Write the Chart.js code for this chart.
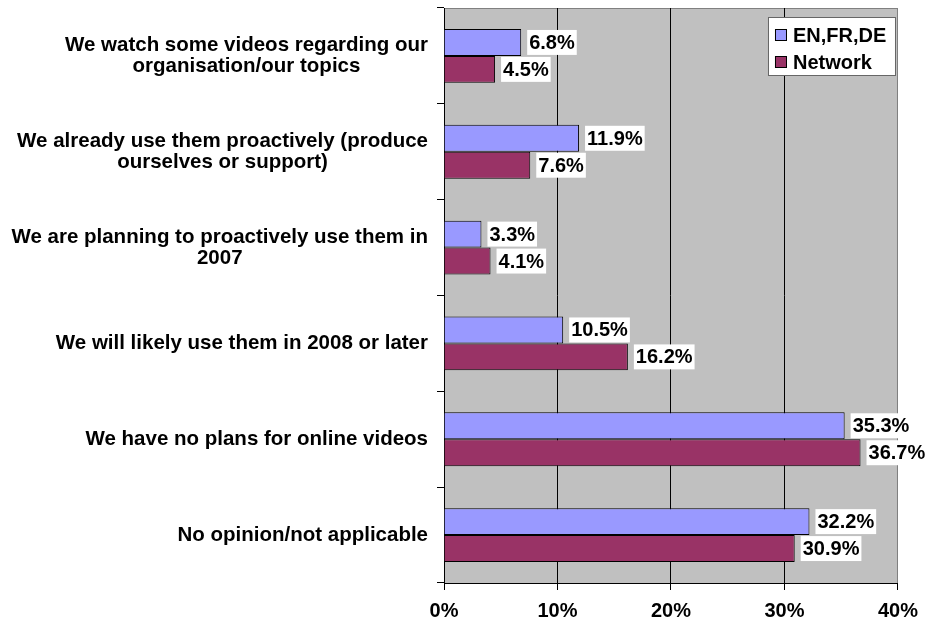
<!DOCTYPE html>
<html>
<head>
<meta charset="utf-8">
<script src="https://cdn.jsdelivr.net/npm/chart.js@4/dist/chart.umd.min.js"></script>
<style>
  body { margin: 0; background: #fff; }
  #wrap { width: 927px; height: 622px; }
</style>
</head>
<body>
<div id="wrap"><canvas id="bar-chart"></canvas></div>
<script>
// categories (each one split into its display lines)
const categories = [
  ["We watch some videos regarding our", "organisation/our topics"],
  ["We already use them proactively (produce", "ourselves or support)"],
  ["We are planning to proactively use them in", "2007"],
  "We will likely use them in 2008 or later",
  "We have no plans for online videos",
  "No opinion/not applicable"
];
const seriesNames = ["EN,FR,DE", "Network"];
const enFrDe = [6.8, 11.9, 3.3, 10.5, 35.3, 32.2];
const network = [4.5, 7.6, 4.1, 16.2, 36.7, 30.9];
const xTicks = [0, 10, 20, 30, 40];

const FONT = "Arial, 'Liberation Sans', sans-serif";

// gray plot background with the light border on top/right
const plotBg = {
  id: 'plotBg',
  beforeDraw(chart) {
    const { ctx, chartArea: a } = chart;
    ctx.save();
    ctx.fillStyle = '#C0C0C0';
    ctx.fillRect(a.left, a.top, a.right - a.left, a.bottom - a.top);
    ctx.strokeStyle = '#808080';
    ctx.lineWidth = 1;
    ctx.beginPath();
    ctx.moveTo(a.left, a.top + 0.5);
    ctx.lineTo(a.right - 0.5, a.top + 0.5);
    ctx.lineTo(a.right - 0.5, a.bottom);
    ctx.stroke();
    ctx.restore();
  }
};

// category labels: centre-justified lines, block right-aligned to the axis
const catLabels = {
  id: 'catLabels',
  afterDraw(chart) {
    const ctx = chart.ctx;
    const ys = chart.scales.y;
    const lh = 21;
    ctx.save();
    ctx.font = 'bold 20.5px ' + FONT;
    ctx.fillStyle = '#000';
    ctx.textAlign = 'center';
    ctx.textBaseline = 'middle';
    chart.data.labels.forEach((lab, i) => {
      const lines = Array.isArray(lab) ? lab : [lab];
      const maxW = Math.max(...lines.map(l => ctx.measureText(l).width));
      const cx = ys.right - 16 - maxW / 2;
      const cy = ys.getPixelForValue(i);
      lines.forEach((l, k) => {
        ctx.fillText(l, cx, cy + (k - (lines.length - 1) / 2) * lh);
      });
    });
    ctx.restore();
  }
};

// value labels in white boxes right of each bar
const valueLabels = {
  id: 'valueLabels',
  afterDatasetsDraw(chart) {
    const ctx = chart.ctx;
    ctx.save();
    ctx.font = 'bold 20px ' + FONT;
    ctx.textBaseline = 'middle';
    chart.data.datasets.forEach((ds, i) => {
      chart.getDatasetMeta(i).data.forEach((bar, j) => {
        const txt = ds.data[j].toFixed(1) + '%';
        const w = ctx.measureText(txt).width;
        const x = bar.x + 6;
        const h = bar.height - 2;
        ctx.fillStyle = '#fff';
        ctx.fillRect(x, bar.y - h / 2, w + 4, h);
        ctx.fillStyle = '#000';
        ctx.fillText(txt, x + 2, bar.y + 1);
      });
    });
    ctx.restore();
  }
};

// legend box in the top right corner of the plot
const legendBox = {
  id: 'legendBox',
  afterDraw(chart) {
    const ctx = chart.ctx;
    const a = chart.chartArea;
    const bx = a.right - 130, by = a.top + 9, bw = 128, bh = 59;
    ctx.save();
    ctx.fillStyle = '#fff';
    ctx.fillRect(bx, by, bw, bh);
    ctx.strokeStyle = '#666';
    ctx.lineWidth = 1;
    ctx.strokeRect(bx + 0.5, by + 0.5, bw - 1, bh - 1);
    ctx.font = 'bold 20px ' + FONT;
    ctx.textBaseline = 'middle';
    chart.data.datasets.forEach((ds, i) => {
      const cy = by + 18 + i * 27;
      ctx.fillStyle = ds.backgroundColor;
      ctx.fillRect(bx + 7, cy - 6, 12, 12);
      ctx.strokeStyle = '#000';
      ctx.strokeRect(bx + 7.5, cy - 5.5, 11, 11);
      ctx.fillStyle = '#000';
      ctx.fillText(ds.label, bx + 25, cy + 1);
    });
    ctx.restore();
  }
};

const chart = new Chart(document.getElementById('bar-chart'), {
  type: 'bar',
  data: {
    labels: categories,
    datasets: [
      {
        label: seriesNames[0],
        data: enFrDe,
        backgroundColor: '#9999FF',
        borderColor: '#000',
        borderWidth: 1
      },
      {
        label: seriesNames[1],
        data: network,
        backgroundColor: '#993366',
        borderColor: '#000',
        borderWidth: 1
      }
    ]
  },
  options: {
    indexAxis: 'y',
    responsive: true,
    maintainAspectRatio: false,
    animation: false,
    categoryPercentage: 0.5625,
    barPercentage: 1.0,
    layout: { padding: { left: 0, right: 28, top: 8, bottom: 0 } },
    plugins: {
      legend: { display: false },
      tooltip: { enabled: false }
    },
    scales: {
      x: {
        min: 0,
        max: 40,
        afterBuildTicks: (scale) => { scale.ticks = xTicks.map(v => ({ value: v })); },
        afterFit: (scale) => { scale.height = 39; },
        ticks: {
          callback: (v) => v + '%',
          color: '#000',
          font: { family: FONT, size: 20, weight: 'bold' },
          padding: 9,
          maxRotation: 0
        },
        grid: {
          color: (c) => (c.tick && c.tick.value === 40 ? '#808080' : '#000'),
          tickColor: '#000',
          tickLength: 7,
          lineWidth: 1
        },
        border: { color: '#000', width: 1 }
      },
      y: {
        afterFit: (scale) => { scale.width = 444; },
        ticks: { display: false },
        grid: {
          drawOnChartArea: false,
          tickColor: '#000',
          tickLength: 7,
          offset: true
        },
        border: { color: '#000', width: 1 }
      }
    }
  },
  plugins: [plotBg, catLabels, valueLabels, legendBox]
});
</script>
</body>
</html>
